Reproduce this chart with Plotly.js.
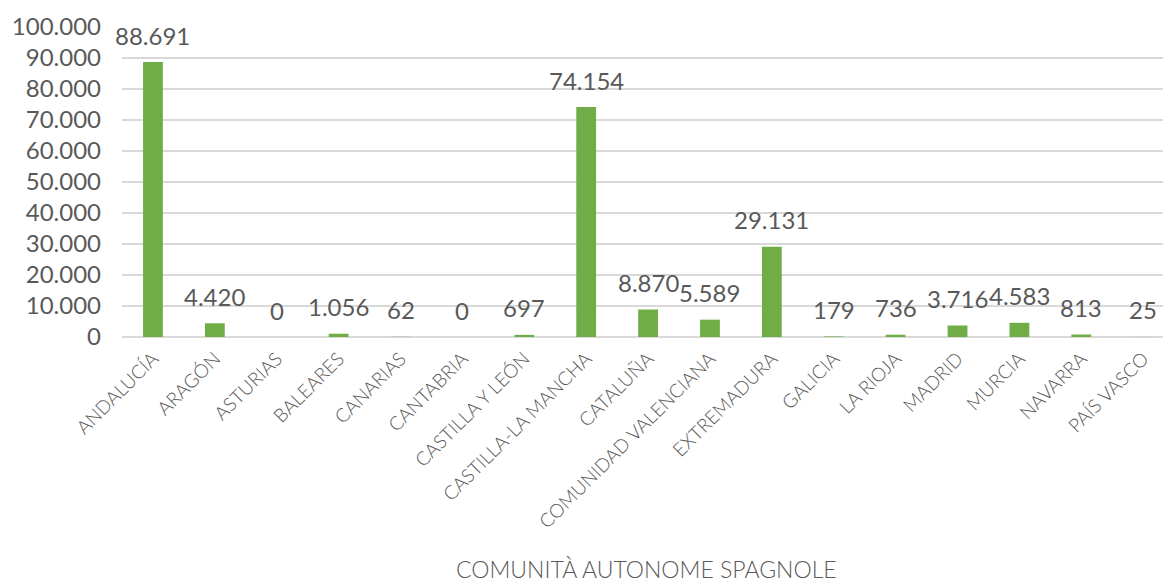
<!DOCTYPE html>
<html>
<head>
<meta charset="utf-8">
<script src="https://cdn.plot.ly/plotly-3.0.1.min.js"></script>
<style>html,body{margin:0;padding:0;background:#fff;}#chart{width:1163px;height:583px;}</style>
</head>
<body>
<div id="chart"></div>
<script>
var categories = ["ANDALUCÍA","ARAGÓN","ASTURIAS","BALEARES","CANARIAS","CANTABRIA","CASTILLA Y LEÓN","CASTILLA-LA MANCHA","CATALUÑA","COMUNIDAD VALENCIANA","EXTREMADURA","GALICIA","LA RIOJA","MADRID","MURCIA","NAVARRA","PAÍS VASCO"];
var values = [88691,4420,0,1056,62,0,697,74154,8870,5589,29131,179,736,3716,4583,813,25];
var yTickVals = [0,10000,20000,30000,40000,50000,60000,70000,80000,90000,100000];
var xTitle = "COMUNITÀ AUTONOME SPAGNOLE";

function fmt(v){
  return String(v).replace(/\B(?=(\d{3})+(?!\d))/g, ".");
}

var FONT = "Lato, 'Open Sans', sans-serif";
var GREY = "#595959";

var annotations = categories.map(function(c,i){
  return {x:c, y:values[i], xref:'x', yref:'y', text:fmt(values[i]), showarrow:false,
    yanchor:'middle', yshift:27, font:{family:FONT, size:24, color:GREY, weight:400}};
});
annotations.push({x:0.504, y:-0.748, xref:'paper', yref:'paper', text:xTitle, showarrow:false,
  xanchor:'center', yanchor:'middle', font:{family:FONT, size:23, color:GREY, weight:300}});

var trace = {
  type:'bar', x:categories, y:values,
  marker:{color:'#70AD47'}, width:0.32, hoverinfo:'none'
};

var layout = {
  width:1163, height:583,
  margin:{l:122, r:0, t:27, b:246},
  paper_bgcolor:'#fff', plot_bgcolor:'#fff',
  separators:',.',
  showlegend:false,
  font:{family:FONT, color:GREY},
  xaxis:{
    type:'category', range:[-0.5,16.32], tickangle:-45,
    tickfont:{family:FONT, size:19, color:GREY, weight:300},
    showgrid:false, showline:false, zeroline:false, ticks:'', ticklabelstandoff:6
  },
  yaxis:{
    range:[0,100000], tickvals:yTickVals, tickformat:',d',
    tickfont:{family:FONT, size:24, color:GREY, weight:400},
    showgrid:true, gridcolor:'#d9d9d9', gridwidth:1.5,
    zeroline:true, zerolinecolor:'#d9d9d9', zerolinewidth:1.5,
    showline:false, ticks:'', ticklabelstandoff:20
  },
  annotations:annotations
};

Plotly.newPlot('chart',[trace],layout,{displayModeBar:false, staticPlot:true});
</script>
</body>
</html>
